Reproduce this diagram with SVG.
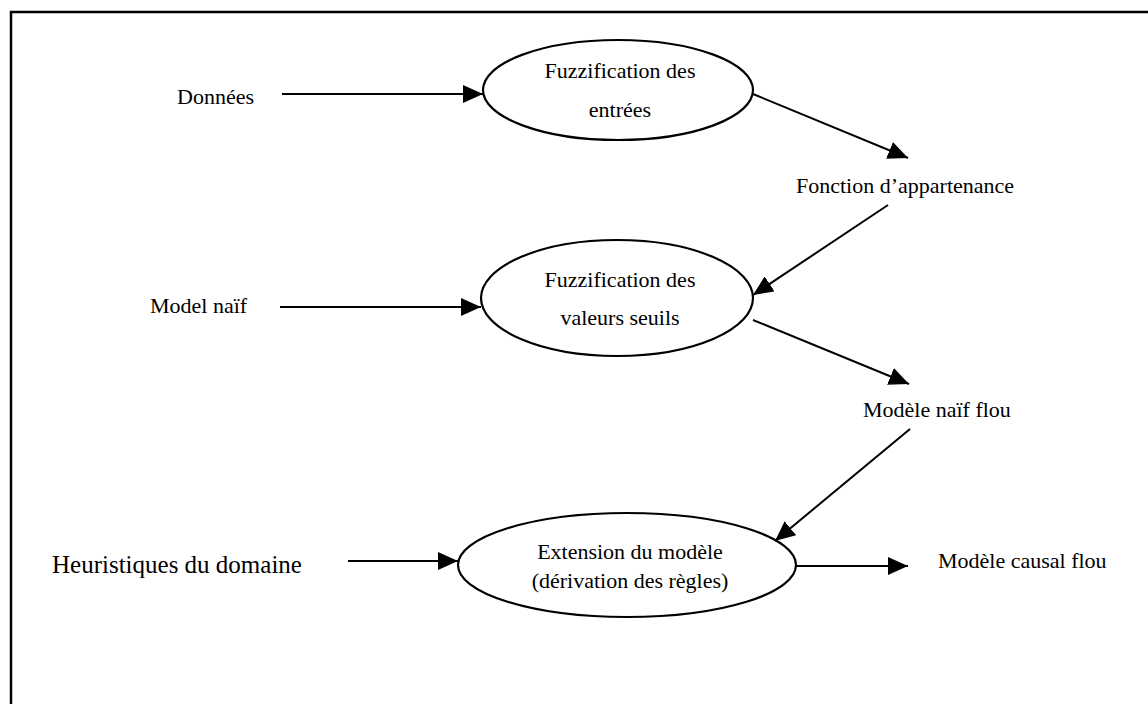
<svg xmlns="http://www.w3.org/2000/svg" width="1148" height="704" viewBox="0 0 1148 704">
<defs>
<marker id="ah" viewBox="0 0 20 18" refX="20" refY="9" markerWidth="20" markerHeight="18" markerUnits="userSpaceOnUse" orient="auto">
<path d="M0,0 L20,9 L0,18 Z" fill="#000"/>
</marker>
<style>
text{font-family:"Liberation Serif","Times New Roman",serif;font-size:22px;fill:#000}
.c{text-anchor:middle}
.big{font-size:25px}
ellipse{fill:#fff;stroke:#000;stroke-width:2.2}
.conn line{stroke:#000;stroke-width:2;marker-end:url(#ah)}
.frame{stroke:#000;stroke-width:2.5;fill:none}
</style>
</defs>
<rect width="1148" height="704" fill="#fff"/>
<path class="frame" d="M11,704 L11,12 L1148,12"/>

<g id="donnees"><text x="177" y="104">Données</text></g>
<g id="model-naif"><text x="150" y="313">Model naïf</text></g>
<g id="heuristiques"><text class="big" x="52" y="573">Heuristiques du domaine</text></g>

<g id="fuzz-entrees">
<ellipse cx="618" cy="90" rx="135" ry="50"/>
<text class="c" x="620" y="78">Fuzzification des</text>
<text class="c" x="620" y="117">entrées</text>
</g>

<g id="fonction"><text x="796" y="193">Fonction d’appartenance</text></g>

<g id="fuzz-seuils">
<ellipse cx="617" cy="298" rx="136" ry="58"/>
<text class="c" x="620" y="287">Fuzzification des</text>
<text class="c" x="620" y="325">valeurs seuils</text>
</g>

<g id="modele-naif-flou"><text x="863" y="417">Modèle naïf flou</text></g>

<g id="extension">
<ellipse cx="627" cy="565" rx="169" ry="52"/>
<text class="c" x="630" y="559">Extension du modèle</text>
<text class="c" x="630" y="588">(dérivation des règles)</text>
</g>

<g id="modele-causal"><text x="938" y="568">Modèle causal flou</text></g>

<g class="conn" id="connectors">
<line x1="282" y1="94" x2="483" y2="94"/>
<line x1="753" y1="94" x2="908" y2="158"/>
<line x1="888" y1="205" x2="753" y2="295"/>
<line x1="280" y1="307" x2="481" y2="307"/>
<line x1="753" y1="320" x2="909" y2="384"/>
<line x1="910" y1="429" x2="775" y2="541"/>
<line x1="348" y1="561" x2="458" y2="561"/>
<line x1="796" y1="566" x2="908" y2="566"/>
</g>
</svg>
